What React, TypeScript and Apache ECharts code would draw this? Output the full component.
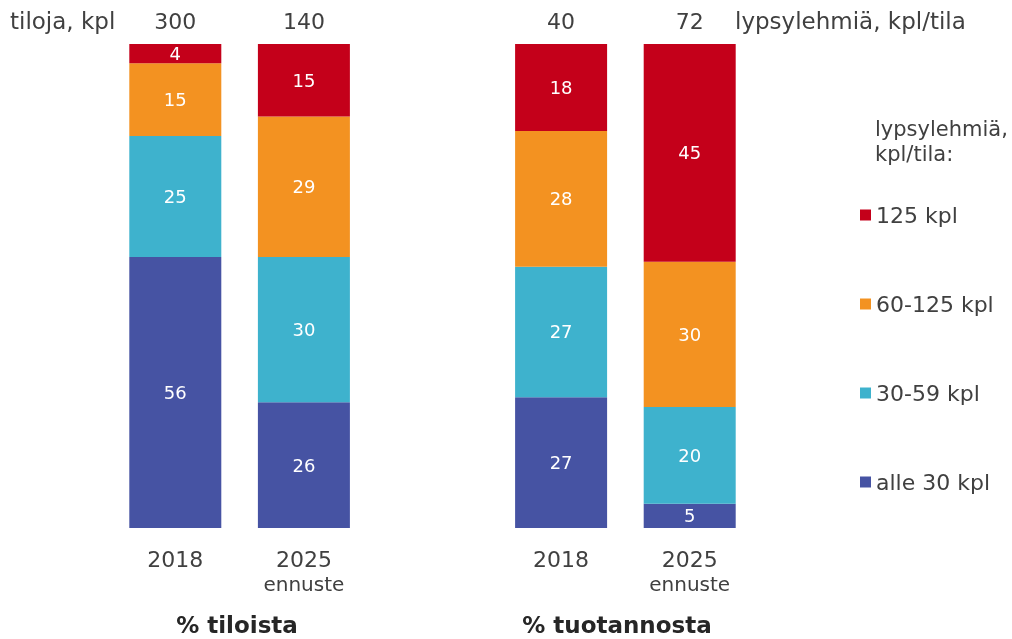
import React, { useEffect, useRef } from "react";
import * as echarts from "echarts";

const categories = ["2018", "2025\nennuste", "", "2018", "2025\nennuste"];
const topLabels = ["300", "140", "", "40", "72"];
const seriesNames = ["alle 30 kpl", "30-59 kpl", "60-125 kpl", "125 kpl"];
const alle30 = [56, 26, null, 27, 5];
const k30_59 = [25, 30, null, 27, 20];
const k60_125 = [15, 29, null, 28, 30];
const k125 = [4, 15, null, 18, 45];
const colors = ["#4653A3", "#3EB2CD", "#F39221", "#C4001A"];
const legendOrder = ["125 kpl", "60-125 kpl", "30-59 kpl", "alle 30 kpl"];
const groupTitles = ["% tiloista", "% tuotannosta"];

const FONT = "DejaVu Sans";
const TXT = "#404040";

export default function App() {
  const ref = useRef<HTMLDivElement>(null);
  useEffect(() => {
    if (!ref.current) return;
    const chart = echarts.init(ref.current, undefined, { renderer: "svg" });
    const data = [alle30, k30_59, k60_125, k125];
    chart.setOption({
      animation: false,
      textStyle: { fontFamily: FONT },
      grid: { left: 111, right: 258, top: 44, bottom: 111 },
      xAxis: [
        {
          type: "category",
          data: categories,
          axisLine: { show: false },
          axisTick: { show: false },
          axisLabel: {
            interval: 0,
            margin: 18,
            formatter: (v: string) => {
              const parts = v.split("\n");
              return parts.length > 1
                ? `{a|${parts[0]}}\n{b|${parts[1]}}`
                : `{a|${parts[0]}}`;
            },
            rich: {
              a: { fontFamily: FONT, fontSize: 22, color: TXT, lineHeight: 26 },
              b: { fontFamily: FONT, fontSize: 20, color: TXT, lineHeight: 24 },
            },
          },
        },
        {
          type: "category",
          position: "top",
          data: topLabels,
          axisLine: { show: false },
          axisTick: { show: false },
          axisLabel: {
            interval: 0,
            margin: 12,
            fontFamily: FONT,
            fontSize: 22,
            color: TXT,
          },
        },
      ],
      yAxis: {
        type: "value",
        min: 0,
        max: 100,
        show: false,
        splitLine: { show: false },
      },
      legend: {
        orient: "vertical",
        left: 855,
        top: 199,
        itemGap: 67,
        itemWidth: 11,
        itemHeight: 11,
        icon: "rect",
        data: legendOrder,
        textStyle: { fontFamily: FONT, fontSize: 22, color: TXT },
        selectedMode: false,
      },
      graphic: [
        {
          type: "text",
          left: 10,
          top: 9,
          style: { text: "tiloja, kpl", font: `23px "${FONT}"`, fill: TXT },
        },
        {
          type: "text",
          left: 735,
          top: 9,
          style: { text: "lypsylehmiä, kpl/tila", font: `23px "${FONT}"`, fill: TXT },
        },
        {
          type: "text",
          left: 875,
          top: 116,
          style: {
            text: "lypsylehmiä,\nkpl/tila:",
            font: `21px "${FONT}"`,
            fill: TXT,
            lineHeight: 25,
          },
        },
        {
          type: "text",
          x: 237,
          y: 625,
          style: {
            text: groupTitles[0],
            font: `bold 23px "${FONT}"`,
            fill: "#262626",
            align: "center",
            verticalAlign: "middle",
          },
        },
        {
          type: "text",
          x: 617,
          y: 625,
          style: {
            text: groupTitles[1],
            font: `bold 23px "${FONT}"`,
            fill: "#262626",
            align: "center",
            verticalAlign: "middle",
          },
        },
      ],
      series: seriesNames.map((name, i) => ({
        name,
        type: "bar",
        stack: "total",
        barWidth: 92,
        data: data[i],
        itemStyle: { color: colors[i] },
        label: {
          show: true,
          position: "inside",
          color: "#fff",
          fontFamily: FONT,
          fontSize: 18,
        },
      })),
    });
    return () => chart.dispose();
  }, []);
  return (
    <div
      ref={ref}
      style={{ position: "fixed", left: 0, top: 0, width: 1012, height: 639 }}
    />
  );
}
